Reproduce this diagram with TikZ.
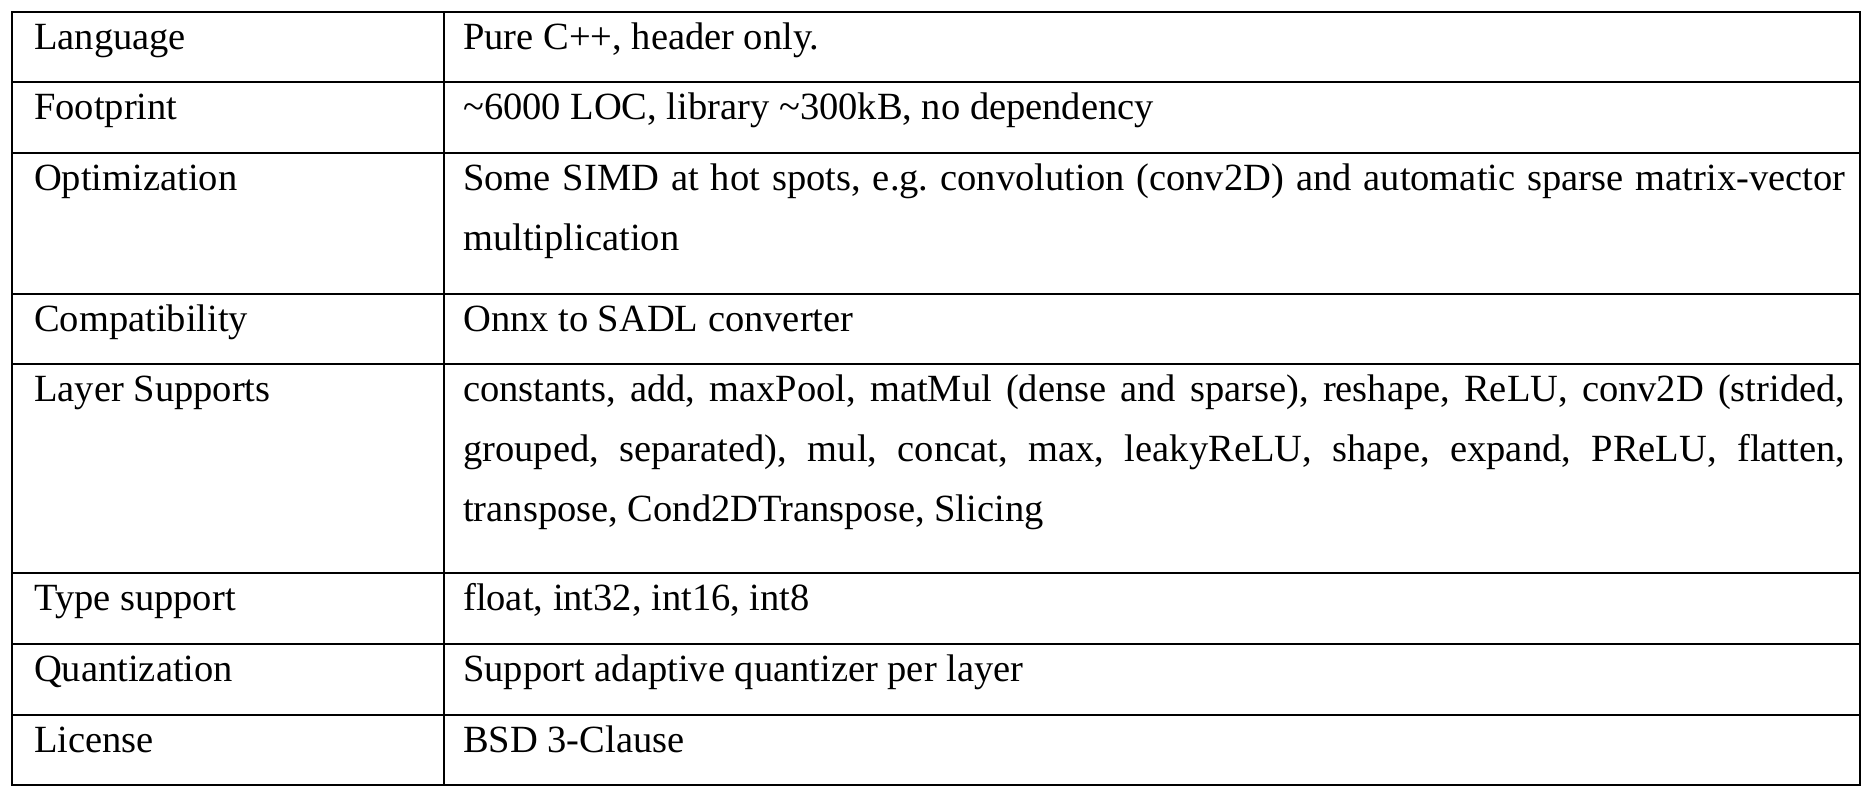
\documentclass[tikz,border=0pt]{standalone}
\usepackage{fontspec}
\setmainfont{Liberation Serif}
\frenchspacing
\newcommand{\mystrut}{\rule{0pt}{31pt}}
\begin{document}
\hyphenpenalty=10000
\exhyphenpenalty=10000
\begin{tikzpicture}[x=1pt,y=-1pt,
  cell/.style={anchor=north west,inner sep=0pt,align=justify,
    font=\fontsize{38.5}{60}\selectfont},
  lc/.style={cell,text width=380pt},
  rc/.style={cell,text width=1382pt},
  grid/.style={line width=1.6pt}]
\useasboundingbox (0,0) rectangle (1872,798);
\draw[grid] (12,12) rectangle (1860,785);
\draw[grid] (444,12) -- (444,785);
\foreach \y in {82,153,294,364,573,644,715}{\draw[grid] (12,\y) -- (1860,\y);}
\node[lc] (l1) at (34,6+12) {\mystrut Language};
\node[rc] (r1) at (463,6+12) {\mystrut Pure C++, header only.};
\node[lc] (l2) at (34,6+82) {\mystrut Footprint};
\node[rc] (r2) at (463,6+82) {\mystrut \textasciitilde 6000 LOC, library \textasciitilde 300kB, no dependency};
\node[lc] (l3) at (34,6+153) {\mystrut Optimization};
\node[rc] (r3) at (463,6+153) {\mystrut Some SIMD at hot spots, e.g. convolution (conv2D) and automatic sparse matrix-vector multiplication};
\node[lc] (l4) at (34,6+294) {\mystrut Compatibility};
\node[rc] (r4) at (463,6+294) {\mystrut Onnx to SADL converter};
\node[lc] (l5) at (34,6+364) {\mystrut Layer Supports};
\node[rc] (r5) at (463,6+364) {\mystrut constants, add, maxPool, matMul (dense and sparse), reshape, ReLU, conv2D (strided, grouped, separated), mul, concat, max, leakyReLU, shape, expand, PReLU, flatten, transpose, Cond2DTranspose, Slicing};
\node[lc] (l6) at (34,6+573) {\mystrut Type support};
\node[rc] (r6) at (463,6+573) {\mystrut float, int32, int16, int8};
\node[lc] (l7) at (34,6+644) {\mystrut Quantization};
\node[rc] (r7) at (463,6+644) {\mystrut Support adaptive quantizer per layer};
\node[lc] (l8) at (34,6+715) {\mystrut License};
\node[rc] (r8) at (463,6+715) {\mystrut BSD 3-Clause};
\end{tikzpicture}
\end{document}
